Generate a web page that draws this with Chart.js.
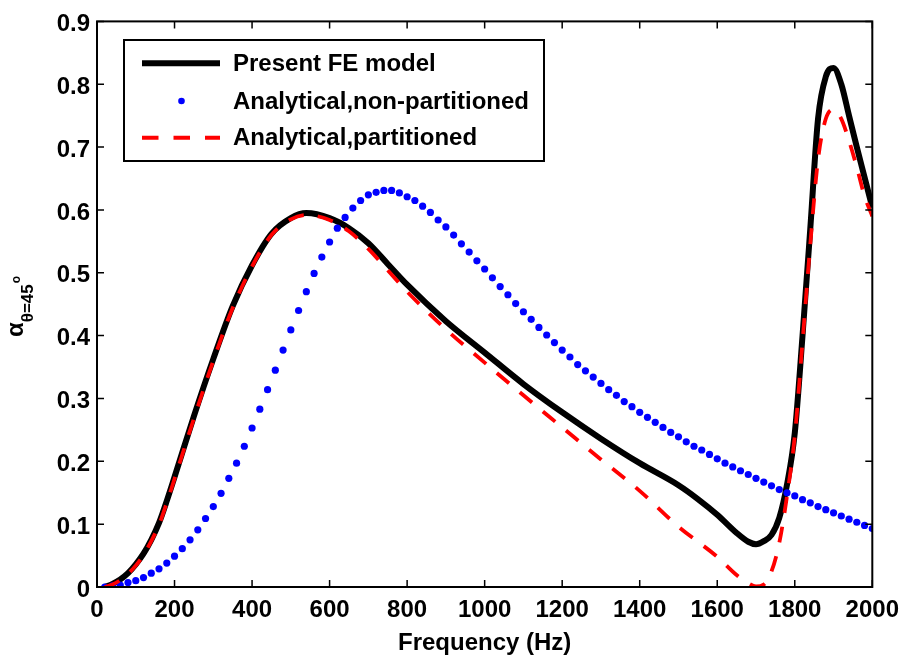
<!DOCTYPE html>
<html>
<head>
<meta charset="utf-8">
<script src="https://cdn.jsdelivr.net/npm/chart.js@4.4.0/dist/chart.umd.min.js"></script>
<style>
  body { margin: 0; background: #fff; }
  #wrap { width: 908px; height: 662px; }
</style>
</head>
<body>
<div id="wrap"><canvas id="chart" width="908" height="662"></canvas></div>
<script>
// Present FE model
const freqFE = [20, 40, 60, 80, 100, 120, 140, 160, 180, 200, 250, 300, 350, 400, 450, 500, 540, 600, 650, 700,
  750, 800, 900, 1000, 1100, 1200, 1300, 1400, 1500, 1550, 1600, 1650, 1680, 1700, 1720, 1740, 1760, 1780, 1800,
  1820, 1840, 1860, 1880, 1900, 1920, 1940, 1960, 1980, 2000];
const alphaFE = [0.000, 0.005, 0.012, 0.022, 0.036, 0.053, 0.075, 0.102, 0.137, 0.175, 0.272, 0.363, 0.447, 0.512,
  0.562, 0.587, 0.595, 0.587, 0.571, 0.547, 0.514, 0.481, 0.423, 0.373, 0.323, 0.278, 0.236, 0.197, 0.162, 0.140,
  0.115, 0.086, 0.072, 0.068, 0.073, 0.083, 0.110, 0.163, 0.245, 0.400, 0.570, 0.745, 0.812, 0.826, 0.800, 0.750,
  0.700, 0.652, 0.604];

// Analytical, partitioned
const freqPart = [20, 40, 60, 80, 100, 120, 140, 160, 180, 200, 250, 300, 350, 400, 450, 500, 540, 600, 650, 700,
  750, 800, 900, 1000, 1100, 1200, 1300, 1400, 1500, 1600, 1650, 1680, 1700, 1720, 1740, 1760, 1780, 1800, 1820,
  1840, 1860, 1880, 1900, 1920, 1940, 1960, 1980, 2000];
const alphaPart = [0.000, 0.004, 0.011, 0.021, 0.034, 0.051, 0.073, 0.099, 0.134, 0.172, 0.268, 0.360, 0.444, 0.510,
  0.560, 0.585, 0.592, 0.584, 0.566, 0.538, 0.504, 0.470, 0.410, 0.357, 0.305, 0.254, 0.203, 0.153, 0.096, 0.048,
  0.019, 0.006, 0.001, 0.004, 0.025, 0.070, 0.145, 0.240, 0.390, 0.545, 0.680, 0.745, 0.760, 0.745, 0.710, 0.668,
  0.622, 0.590];

// Analytical, non-partitioned (points every 20 Hz)
const freqNonPart = [20, 40, 60, 80, 100, 120, 140, 160, 180, 200, 220, 240, 260, 280, 300, 320, 340, 360, 380, 400,
  420, 440, 460, 480, 500, 520, 540, 560, 580, 600, 620, 640, 660, 680, 700, 720, 740, 760, 780, 800,
  820, 840, 860, 880, 900, 920, 940, 960, 980, 1000, 1020, 1040, 1060, 1080, 1100, 1120, 1140, 1160, 1180, 1200,
  1220, 1240, 1260, 1280, 1300, 1320, 1340, 1360, 1380, 1400, 1420, 1440, 1460, 1480, 1500, 1520, 1540, 1560, 1580, 1600,
  1620, 1640, 1660, 1680, 1700, 1720, 1740, 1760, 1780, 1800, 1820, 1840, 1860, 1880, 1900, 1920, 1940, 1960, 1980, 2000];
const alphaNonPart = [0.000, 0.002, 0.003, 0.007, 0.010, 0.015, 0.022, 0.029, 0.038, 0.049,
  0.061, 0.075, 0.091, 0.109, 0.128, 0.149, 0.173, 0.197, 0.224, 0.253,
  0.283, 0.314, 0.345, 0.377, 0.409, 0.440, 0.470, 0.499, 0.525, 0.549,
  0.571, 0.588, 0.603, 0.615, 0.624, 0.628, 0.631, 0.631, 0.627, 0.621,
  0.615, 0.606, 0.596, 0.584, 0.573, 0.560, 0.546, 0.533, 0.519, 0.506,
  0.492, 0.478, 0.465, 0.451, 0.438, 0.426, 0.413, 0.401, 0.389, 0.377,
  0.366, 0.354, 0.344, 0.334, 0.324, 0.314, 0.305, 0.295, 0.287, 0.278,
  0.270, 0.262, 0.254, 0.246, 0.239, 0.231, 0.224, 0.218, 0.211, 0.204,
  0.197, 0.191, 0.185, 0.179, 0.173, 0.167, 0.161, 0.155, 0.150, 0.145,
  0.139, 0.134, 0.128, 0.123, 0.118, 0.113, 0.108, 0.103, 0.098, 0.093];

const seriesLabels = ['Present FE model', 'Analytical,non-partitioned', 'Analytical,partitioned'];

const FONT = '"Liberation Sans", Arial, Helvetica, sans-serif';

function toPoints(xs, ys) {
  return xs.map((x, i) => ({ x: x, y: ys[i] }));
}

// Cadre + graduations intérieures (style MATLAB)
const framePlugin = {
  id: 'frame',
  afterDraw(chart) {
    const { ctx, chartArea: a, scales: { x, y } } = chart;
    ctx.save();
    ctx.strokeStyle = '#000';
    ctx.lineWidth = 1.5;
    ctx.beginPath();
    x.ticks.forEach(t => {
      const px = x.getPixelForValue(t.value);
      ctx.moveTo(px, a.bottom); ctx.lineTo(px, a.bottom - 7);
      ctx.moveTo(px, a.top); ctx.lineTo(px, a.top + 7);
    });
    y.ticks.forEach(t => {
      const py = y.getPixelForValue(t.value);
      ctx.moveTo(a.left, py); ctx.lineTo(a.left + 7, py);
      ctx.moveTo(a.right, py); ctx.lineTo(a.right - 7, py);
    });
    ctx.stroke();
    ctx.lineWidth = 2;
    ctx.strokeRect(a.left, a.top, a.right - a.left, a.bottom - a.top);
    ctx.restore();
  }
};

// Titre de l'axe Y avec indice et exposant
const yTitlePlugin = {
  id: 'ytitle',
  afterDraw(chart) {
    const ctx = chart.ctx;
    ctx.save();
    ctx.translate(23, 300);
    ctx.rotate(-Math.PI / 2);
    ctx.fillStyle = '#000';
    ctx.textBaseline = 'alphabetic';
    ctx.textAlign = 'left';
    let u = -37;
    ctx.font = 'bold 24px ' + FONT;
    ctx.fillText('α', u, 0);
    u += ctx.measureText('α').width;
    ctx.font = 'bold 17px ' + FONT;
    ctx.fillText('θ=45', u, 10);
    u += ctx.measureText('θ=45').width + 1;
    ctx.font = 'bold 12px ' + FONT;
    ctx.fillText('o', u, -3);
    ctx.restore();
  }
};

// Légende encadrée
const legendPlugin = {
  id: 'boxlegend',
  afterDraw(chart) {
    const ctx = chart.ctx;
    const box = { x: 124, y: 40, w: 420, h: 121 };
    const rows = [63.3, 101, 137.7];
    ctx.save();
    ctx.fillStyle = '#fff';
    ctx.fillRect(box.x, box.y, box.w, box.h);
    ctx.strokeStyle = '#000';
    ctx.lineWidth = 2;
    ctx.strokeRect(box.x, box.y, box.w, box.h);

    // échantillons
    ctx.lineCap = 'butt';
    ctx.strokeStyle = '#000';
    ctx.lineWidth = 6;
    ctx.beginPath(); ctx.moveTo(142, rows[0]); ctx.lineTo(220, rows[0]); ctx.stroke();

    ctx.fillStyle = '#0000ff';
    ctx.beginPath(); ctx.arc(181.5, rows[1], 3.3, 0, Math.PI * 2); ctx.fill();

    ctx.strokeStyle = '#ff0000';
    ctx.lineWidth = 4;
    ctx.setLineDash([16.5, 15]);
    ctx.beginPath(); ctx.moveTo(142, rows[2]); ctx.lineTo(220, rows[2]); ctx.stroke();
    ctx.setLineDash([]);

    ctx.fillStyle = '#000';
    ctx.font = 'bold 24px ' + FONT;
    ctx.textBaseline = 'middle';
    ctx.textAlign = 'left';
    seriesLabels.forEach((s, i) => ctx.fillText(s, 233, rows[i] + 1));
    ctx.restore();
  }
};

new Chart(document.getElementById('chart'), {
  type: 'line',
  data: {
    datasets: [
      {
        label: seriesLabels[0],
        data: toPoints(freqFE, alphaFE),
        borderColor: '#000000',
        borderWidth: 6,
        pointRadius: 0,
        cubicInterpolationMode: 'monotone',
        order: 3
      },
      {
        label: seriesLabels[1],
        data: toPoints(freqNonPart, alphaNonPart),
        showLine: false,
        pointRadius: 3.6,
        pointBackgroundColor: '#0000ff',
        pointBorderWidth: 0,
        borderColor: '#0000ff',
        order: 2
      },
      {
        label: seriesLabels[2],
        data: toPoints(freqPart, alphaPart),
        borderColor: '#ff0000',
        borderWidth: 3.8,
        borderDash: [16, 14],
        pointRadius: 0,
        cubicInterpolationMode: 'monotone',
        order: 1
      }
    ]
  },
  options: {
    responsive: false,
    animation: false,
    devicePixelRatio: 1,
    layout: { padding: { left: 0, top: 15, right: 35, bottom: 0 } },
    plugins: {
      legend: { display: false },
      tooltip: { enabled: false }
    },
    scales: {
      x: {
        type: 'linear',
        min: 0,
        max: 2000,
        grid: { display: false, drawTicks: false },
        border: { display: false },
        ticks: {
          stepSize: 200,
          autoSkip: false,
          maxRotation: 0,
          padding: 9,
          color: '#000',
          font: { family: FONT, size: 24, weight: 'bold' },
          callback: v => String(v)
        },
        title: {
          display: true,
          text: 'Frequency (Hz)',
          color: '#000',
          padding: { top: 0, bottom: 4 },
          font: { family: FONT, size: 24, weight: 'bold' }
        },
        afterFit(scale) { scale.height = 75; }
      },
      y: {
        min: 0,
        max: 0.9,
        grid: { display: false, drawTicks: false },
        border: { display: false },
        ticks: {
          stepSize: 0.1,
          padding: 7,
          labelOffset: 3,
          color: '#000',
          font: { family: FONT, size: 24, weight: 'bold' },
          callback: v => String(+v.toFixed(1))
        },
        afterFit(scale) { scale.width = 97; }
      }
    }
  },
  plugins: [framePlugin, yTitlePlugin, legendPlugin]
});
</script>
</body>
</html>
